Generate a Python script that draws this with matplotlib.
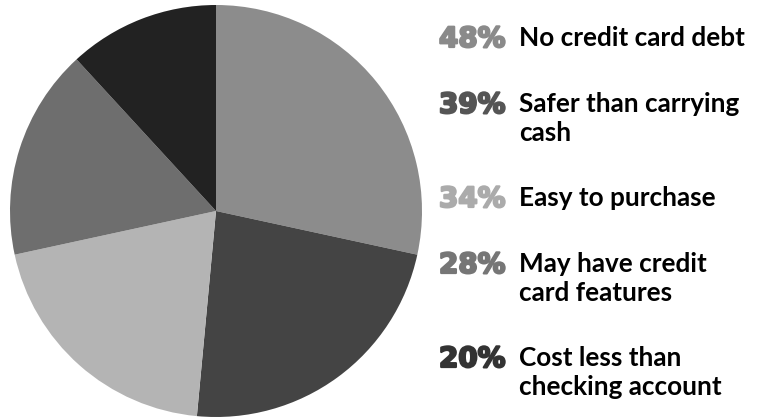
import matplotlib
matplotlib.use("Agg")
import matplotlib.pyplot as plt
import matplotlib.patheffects as pe

values = [48, 39, 34, 28, 20]
pct_labels = ["48%", "39%", "34%", "28%", "20%"]
reasons = ["No credit card debt", "Safer than carrying\ncash", "Easy to purchase",
           "May have credit\ncard features", "Cost less than\nchecking account"]
slice_colors = ["#8c8c8c", "#444444", "#b4b4b4", "#6e6e6e", "#222222"]
pct_colors = ["#8a8a8a", "#555555", "#ababab", "#767676", "#333333"]

W, H = 764, 419
fig = plt.figure(figsize=(W / 100, H / 100), dpi=100)

# pie axes placed in pixel terms: circle spans x 10..422, y 5..417
ax = fig.add_axes([10 / W, (H - 417) / H, 412 / W, 412 / H])
ax.pie(values, colors=slice_colors, startangle=90, counterclock=False,
       wedgeprops=dict(linewidth=0))
ax.set_xlim(-1, 1)
ax.set_ylim(-1, 1)
ax.set_aspect("equal")
ax.axis("off")

# label rows (centre of first line, in pixels from top)
rows = [38, 104, 198, 264, 358]
for y, p, r, c in zip(rows, pct_labels, reasons, pct_colors):
    fig.text(439 / W, 1 - (y + 1) / H, p, color=c, fontsize=20, fontweight="bold",
             family="DejaVu Sans", va="center", ha="left",
             path_effects=[pe.withStroke(linewidth=1.6, foreground=c)])
    lines = r.split("\n")
    for i, line in enumerate(lines):
        fig.text(519 / W, 1 - (y + 29 * i) / H, line, color="black", fontsize=18.8,
                 fontweight="bold", family="Lato", va="center", ha="left")

fig.savefig("out.png", dpi=100)
